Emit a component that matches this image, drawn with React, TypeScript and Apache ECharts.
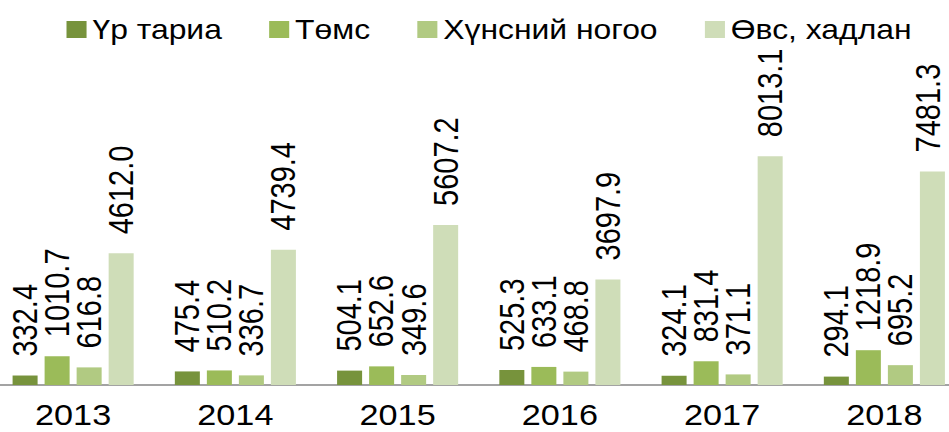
import React, { useEffect, useRef } from "react";
import * as echarts from "echarts";

const years = ["2013", "2014", "2015", "2016", "2017", "2018"];
const seriesNames = ["Үр тариа", "Төмс", "Хүнсний ногоо", "Өвс, хадлан"];
const urTaria = [332.4, 475.4, 504.1, 525.3, 324.1, 294.1];
const tums = [1010.7, 510.2, 652.6, 633.1, 831.4, 1218.9];
const khunsniiNogoo = [616.8, 336.7, 349.6, 468.8, 371.1, 695.2];
const ovsKhadlan = [4612.0, 4739.4, 5607.2, 3697.9, 8013.1, 7481.3];
const colors = ["#77933C", "#9BBB59", "#B1CA82", "#CFDDB8"];

const SX = 1.18;
const OFFSET = -7.6;
const PLOT_RIGHT = 965.5;
const W = (PLOT_RIGHT - OFFSET) / SX;
const FONT = "'Liberation Sans', Arial, sans-serif";

export default function App() {
  const ref = useRef<HTMLDivElement>(null);
  useEffect(() => {
    if (!ref.current) return;
    const chart = echarts.init(ref.current, null, { renderer: "svg" });
    const data = [urTaria, tums, khunsniiNogoo, ovsKhadlan];
    const lastSeries = data.length - 1;
    const lastCat = years.length - 1;
    chart.setOption({
      animation: false,
      textStyle: { fontFamily: FONT },
      legend: {
        data: seriesNames,
        left: (61 - OFFSET) / SX,
        top: 11,
        itemWidth: 17,
        itemHeight: 17,
        itemGap: 40,
        icon: "rect",
        textStyle: { fontSize: 27, color: "#000", fontFamily: FONT },
      },
      grid: { left: 0, right: 0, top: 99.5, bottom: 47, containLabel: false },
      xAxis: {
        type: "category",
        data: years,
        axisLine: { show: true, lineStyle: { color: "#A3A3A3", width: 1.8 } },
        axisTick: { show: false },
        axisLabel: { fontSize: 29, color: "#000", margin: 20, lineHeight: 20, fontFamily: FONT },
      },
      yAxis: { type: "value", min: 0, max: 10000, show: false, splitLine: { show: false } },
      series: seriesNames.map((name, i) => ({
        name,
        type: "bar",
        data: data[i].map((v, j) =>
          i === lastSeries && j === lastCat ? { value: v, label: { offset: [0, -4] } } : v
        ),
        barWidth: 21.2,
        barGap: "28%",
        itemStyle: { color: colors[i] },
        label: {
          show: true,
          position: "top",
          rotate: 90,
          align: "left",
          verticalAlign: "middle",
          distance: 19,
          fontSize: 29,
          lineHeight: 24,
          color: "#000",
          fontFamily: FONT,
          formatter: (p: any) => Number(p.value).toFixed(1),
        },
      })),
    });
    return () => chart.dispose();
  }, []);
  return (
    <div style={{ position: "fixed", left: 0, top: 0, width: 949, height: 432, overflow: "hidden", background: "#fff" }}>
      <div
        ref={ref}
        style={{
          position: "absolute",
          left: OFFSET,
          top: 0,
          width: W,
          height: 432,
          transform: `scaleX(${SX})`,
          transformOrigin: "0 0",
        }}
      />
    </div>
  );
}
